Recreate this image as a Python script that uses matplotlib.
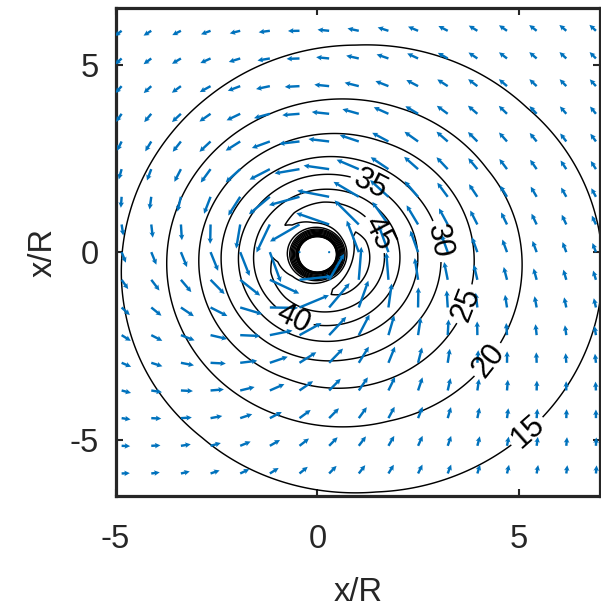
import numpy as np
import matplotlib
matplotlib.use("Agg")
import matplotlib.pyplot as plt

# radial profile of the wind speed
profile_r = [0.00, 0.46, 0.53, 0.61, 0.68, 0.74, 0.85, 1.00, 1.12, 1.25, 1.40,
             1.56, 1.93, 2.40, 2.90, 3.40, 3.90, 4.40, 4.78, 5.66, 6.50, 7.13,
             8.50, 10.0]
profile_v = [0.0, 0.0, 10.0, 24.0, 37.0, 43.0, 46.5, 47.8, 48.0, 47.4, 45.8,
             43.3, 38.3, 32.8, 28.2, 24.6, 22.0, 19.6, 18.0, 15.5, 13.6, 12.6,
             11.4, 10.5]

# wavenumber-1 asymmetry (shift of the contours towards the lower right)
asym_r = [0.0, 0.46, 0.74, 5.00, 6.00, 7.13, 8.30, 10.0]
asym_w = [0.0, 0.0, 3.3, 3.0, 2.7, 2.4, 1.4, 1.0]
asym_dir = -20.0  # deg, direction of the maximum

centre = (0.0, -0.06)

# inflow angle and background flow for the arrows
inflow_mean = 20.0
inflow_amp = 20.0
inflow_dir = 260.0
bg_flow = (-1.0, 1.0)

eye_levels = [1, 2, 3, 4, 5, 6, 7, 8, 9, 10]
other_levels = [50, 55]
label_levels = [15, 20, 25, 30, 35, 40, 45]
label_x = [5.25, 4.34, 3.84, 3.14, 1.33, -0.57, 1.50]
label_y = [-4.84, -2.97, -1.46, 0.32, 1.85, -1.72, 0.50]

quiver_x = np.linspace(-4.85, 6.9, 17)
quiver_y = np.linspace(-5.9, 5.9, 17)

ticks = [-5, 0, 5]


def wind_speed(x, y):
    dx = x - centre[0]
    dy = y - centre[1]
    r = np.hypot(dx, dy)
    th = np.arctan2(dy, dx)
    v = np.interp(r, profile_r, profile_v)
    w = np.interp(r, asym_r, asym_w)
    return np.clip(v + w * np.cos(th - np.deg2rad(asym_dir)), 0, None)


def wind_vector(x, y):
    dx = x - centre[0]
    dy = y - centre[1]
    r = np.hypot(dx, dy)
    th = np.arctan2(dy, dx)
    v = np.interp(r, profile_r, profile_v)
    a = np.deg2rad(inflow_mean + inflow_amp * np.cos(th - np.deg2rad(inflow_dir)))
    ang = th + np.pi / 2 + a
    return v * np.cos(ang) + bg_flow[0], v * np.sin(ang) + bg_flow[1]


plt.rcParams['font.family'] = ['Liberation Sans', 'DejaVu Sans']
plt.rcParams['axes.unicode_minus'] = False

fig = plt.figure(figsize=(6.01, 6.14), dpi=100)
ax = fig.add_axes([0.1923, 0.1922, 0.806, 0.7943])

gx, gy = np.meshgrid(np.linspace(-5, 7, 1000), np.linspace(-6.5, 6.5, 1000))
spd = wind_speed(gx, gy)
ax.contour(gx, gy, spd, levels=eye_levels, colors='k', linewidths=0.8, zorder=2)
ax.contour(gx, gy, spd, levels=other_levels, colors='k', linewidths=1.05, zorder=2)
cs = ax.contour(gx, gy, spd, levels=label_levels, colors='k', linewidths=1.05, zorder=2)
ax.clabel(cs, fontsize=22, colors='k', inline=True, inline_spacing=4,
          fmt='%d', manual=list(zip(label_x, label_y)))

qx, qy = np.meshgrid(quiver_x, quiver_y)
u, v = wind_vector(qx, qy)
ax.quiver(qx, qy, u, v, color='#0072BD', angles='xy', scale_units='xy',
          scale=55, pivot='tail', width=0.005, headwidth=2.3,
          headlength=2.3, headaxislength=2.0, zorder=3)

ax.set_xlim(-5, 7)
ax.set_ylim(-6.5, 6.5)
ax.set_xticks(ticks)
ax.set_yticks(ticks)
ax.tick_params(direction='in', length=5, width=1.5, top=True, right=True,
               labelsize=23.5, colors='#262626', pad=12)
ax.tick_params(axis='x', pad=20)
for s in ax.spines.values():
    s.set_linewidth(2.3)
    s.set_color('#262626')
ax.set_xlabel('x/R', fontsize=23.5, color='#262626', labelpad=16)
ax.set_ylabel('x/R', fontsize=23.5, color='#262626', labelpad=8)

fig.savefig('out.png', dpi=100)
